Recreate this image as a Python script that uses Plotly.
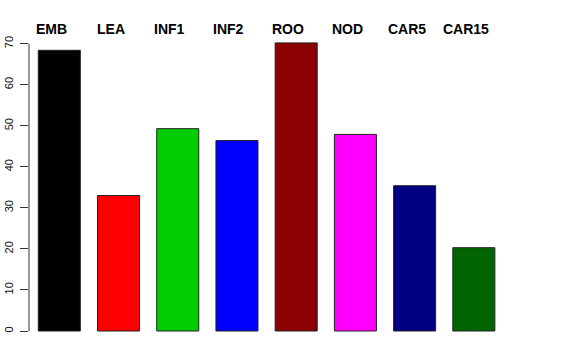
import plotly.graph_objects as go

categories = ["EMB", "LEA", "INF1", "INF2", "ROO", "NOD", "CAR5", "CAR15"]
values = [68.4, 33.0, 49.3, 46.4, 70.2, 47.9, 35.4, 20.3]
colors = ["#000000", "#FF0000", "#00CD00", "#0000FF", "#8B0000", "#FF00FF", "#000080", "#006400"]
y_ticks = [0, 10, 20, 30, 40, 50, 60, 70]

W, H = 576, 360
L, R, T, B = 29, 56, 35, 15
px_per_cat = 59.22
first_center_px = 59.3
x0 = (L - first_center_px) / px_per_cat
x1 = x0 + (W - L - R) / px_per_cat
px_per_unit = 4.104
zero_px = 331
y_top = (zero_px - T) / px_per_unit
y_bot = (zero_px - (H - B)) / px_per_unit

fig = go.Figure()
fig.add_trace(go.Bar(
    x=list(range(len(categories))), y=values,
    marker=dict(color=colors, line=dict(color="#222222", width=1)),
    width=0.71, showlegend=False, hoverinfo="skip",
))

for i, c in enumerate(categories):
    fig.add_annotation(x=i, xref="x", y=1, yref="paper", text="<b>" + c + "</b>",
                       showarrow=False, xshift=-8, yshift=6, yanchor="middle",
                       font=dict(family="Liberation Sans, Arial, sans-serif", size=14, color="black"))

fig.add_shape(type="line", xref="paper", yref="y", x0=0, x1=0,
              y0=min(y_ticks), y1=max(y_ticks), line=dict(color="#333333", width=1))

fig.update_layout(
    width=W, height=H, margin=dict(l=L, r=R, t=T, b=B, autoexpand=False),
    paper_bgcolor="white", plot_bgcolor="white",
    font=dict(family="Liberation Sans, Arial, sans-serif", color="black"),
    xaxis=dict(range=[x0, x1], showticklabels=False, showgrid=False, zeroline=False,
               showline=False, ticks=""),
    yaxis=dict(range=[y_bot, y_top], tickvals=y_ticks, ticktext=[str(v) for v in y_ticks],
               tickangle=-90, ticks="outside", ticklen=8, tickcolor="#333333", tickwidth=1,
               ticklabelstandoff=3,
               showgrid=False, zeroline=False, showline=False,
               tickfont=dict(size=11, color="#111111"), automargin=False),
)

fig.write_html("out.html", config={"displayModeBar": False, "staticPlot": True},
               post_script="document.body.style.margin='0';document.body.style.overflow='hidden';")
